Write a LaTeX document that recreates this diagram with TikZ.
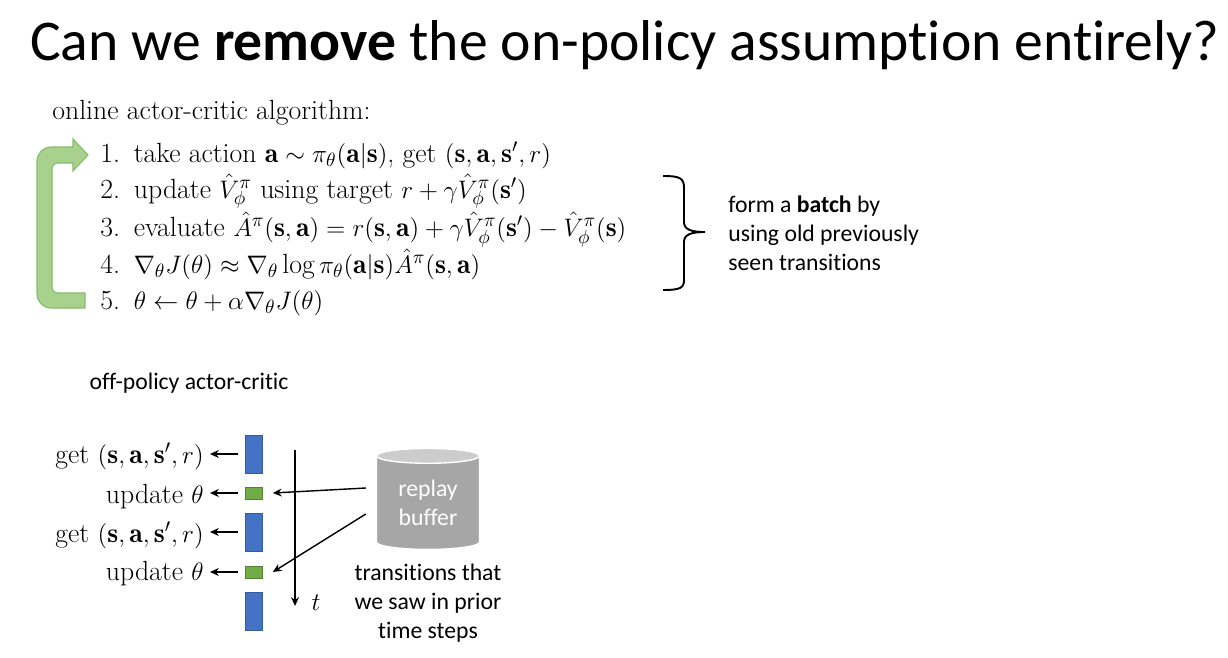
\documentclass[tikz,border=0pt]{standalone}
\usepackage{fontspec}
\newfontfamily\calfont[Ligatures=NoCommon]{Carlito}
\usetikzlibrary{arrows.meta,shapes.geometric}

\definecolor{barblue}{RGB}{68,114,196}
\definecolor{bargreen}{RGB}{112,173,71}
\definecolor{loopfill}{RGB}{169,209,142}
\definecolor{loopedge}{RGB}{130,190,100}
\definecolor{bufbody}{RGB}{166,166,166}
\definecolor{buftop}{RGB}{204,204,204}

\tikzset{
    mathtxt/.style={font=\fontsize{15.8}{19}\selectfont, inner sep=0pt},
    caltxt/.style={font=\calfont\fontsize{13.5}{16.5}\selectfont, align=center, inner sep=0pt},
    bluebar/.style={fill=barblue, draw=barblue!80!black, line width=0.4pt, minimum width=0.34cm, minimum height=0.76cm, inner sep=0pt},
    greenbar/.style={fill=bargreen, draw=bargreen!75!black, line width=0.4pt, minimum width=0.34cm, minimum height=0.24cm, inner sep=0pt},
    arr/.style={-{Stealth[length=5pt,width=4.5pt]}, line width=0.8pt},
}

\begin{document}
\begin{tikzpicture}[x=0.02cm, y=-0.02cm]
    \useasboundingbox (0,0) rectangle (1228,657);

    \node[font=\calfont\fontsize{32.8}{38}\selectfont, inner sep=0pt] (title) at (625,45)
        {Can we \textbf{remove} the on-policy assumption entirely?};

    % online algorithm
    \node[mathtxt, anchor=base west] (head) at (52,119) {online actor-critic algorithm:};
    \node[mathtxt, anchor=base west] (s1) at (100,162)
        {1.\enspace take action $\mathbf{a}\sim\pi_\theta(\mathbf{a}|\mathbf{s})$, get $(\mathbf{s},\mathbf{a},\mathbf{s}',r)$};
    \node[mathtxt, anchor=base west] (s2) at (100,198)
        {2.\enspace update $\hat V^\pi_\phi$ using target $r+\gamma\hat V^\pi_\phi(\mathbf{s}')$};
    \node[mathtxt, anchor=base west] (s3) at (100,236)
        {3.\enspace evaluate $\hat A^\pi(\mathbf{s},\mathbf{a})=r(\mathbf{s},\mathbf{a})+\gamma\hat V^\pi_\phi(\mathbf{s}')-\hat V^\pi_\phi(\mathbf{s})$};
    \node[mathtxt, anchor=base west] (s4) at (100,273)
        {4.\enspace $\nabla_\theta J(\theta)\approx\nabla_\theta\log\pi_\theta(\mathbf{a}|\mathbf{s})\hat A^\pi(\mathbf{s},\mathbf{a})$};
    \node[mathtxt, anchor=base west] (s5) at (100,309)
        {5.\enspace $\theta\leftarrow\theta+\alpha\nabla_\theta J(\theta)$};

    % loop arrow
    \filldraw[fill=loopfill, draw=loopedge, line width=0.6pt]
        (85,308) [rounded corners=8pt] -- (37,308) -- (37,147) [sharp corners] -- (73,147)
        -- (73,139) -- (88,155) -- (73,171) -- (73,163) [rounded corners=3pt] -- (52,163)
        -- (52,293) [sharp corners] -- (85,293) -- cycle;

    % brace and note
    \draw[line width=1.1pt]
        (663,176) .. controls (680,176) and (684,178) .. (684,188) -- (684,222)
        .. controls (684,229) and (690,232) .. (705,232)
        .. controls (690,232) and (684,235) .. (684,242) -- (684,280)
        .. controls (684,288) and (680,290) .. (663,290);
    \node[caltxt, anchor=west, align=left] (batch) at (728,233)
        {form a \textbf{batch} by\\using old previously\\seen transitions};

    % off-policy
    \node[caltxt] (offp) at (189,383) {off-policy actor-critic};

    \node[bluebar] (g1) at (254,454) {};
    \node[greenbar] (u1) at (254,493) {};
    \node[bluebar] (g2) at (254,532) {};
    \node[greenbar] (u2) at (254,572) {};
    \node[bluebar] (g3) at (254,611) {};

    \node[mathtxt, anchor=base east] (lg1) at (204,463) {get $(\mathbf{s},\mathbf{a},\mathbf{s}',r)$};
    \node[mathtxt, anchor=base east] (lu1) at (204,503) {update $\theta$};
    \node[mathtxt, anchor=base east] (lg2) at (204,542) {get $(\mathbf{s},\mathbf{a},\mathbf{s}',r)$};
    \node[mathtxt, anchor=base east] (lu2) at (204,580) {update $\theta$};

    \foreach \b/\l in {g1/lg1, u1/lu1, g2/lg2, u2/lu2}
        \draw[arr, shorten <=0.14cm, shorten >=0.12cm] (\b.west) -- (\b.west -| \l.east);

    % time axis
    \coordinate (t0) at (295,450);
    \coordinate (t1) at (295,606);
    \draw[arr] (t0) -- (t1);
    \node[mathtxt] (tl) at (316,603) {$t$};

    % replay buffer
    \node[cylinder, shape border rotate=90, aspect=0.25, minimum width=2.06cm, minimum height=2.02cm,
          cylinder uses custom fill, cylinder body fill=bufbody, cylinder end fill=buftop,
          draw=white, line width=0.8pt, text=white, caltxt, inner sep=0pt]
        (buf) at (428,503) {replay\\buffer};
    \draw[arr] ([shift={(-10,-15)}]buf.west) -- ([xshift=0.2cm]u1.east);
    \draw[arr] ([shift={(-10,11)}]buf.west) -- ([xshift=0.2cm]u2.east);

    \node[caltxt] (cap) at (428,603) {transitions that\\we saw in prior\\time steps};
\end{tikzpicture}
\end{document}
